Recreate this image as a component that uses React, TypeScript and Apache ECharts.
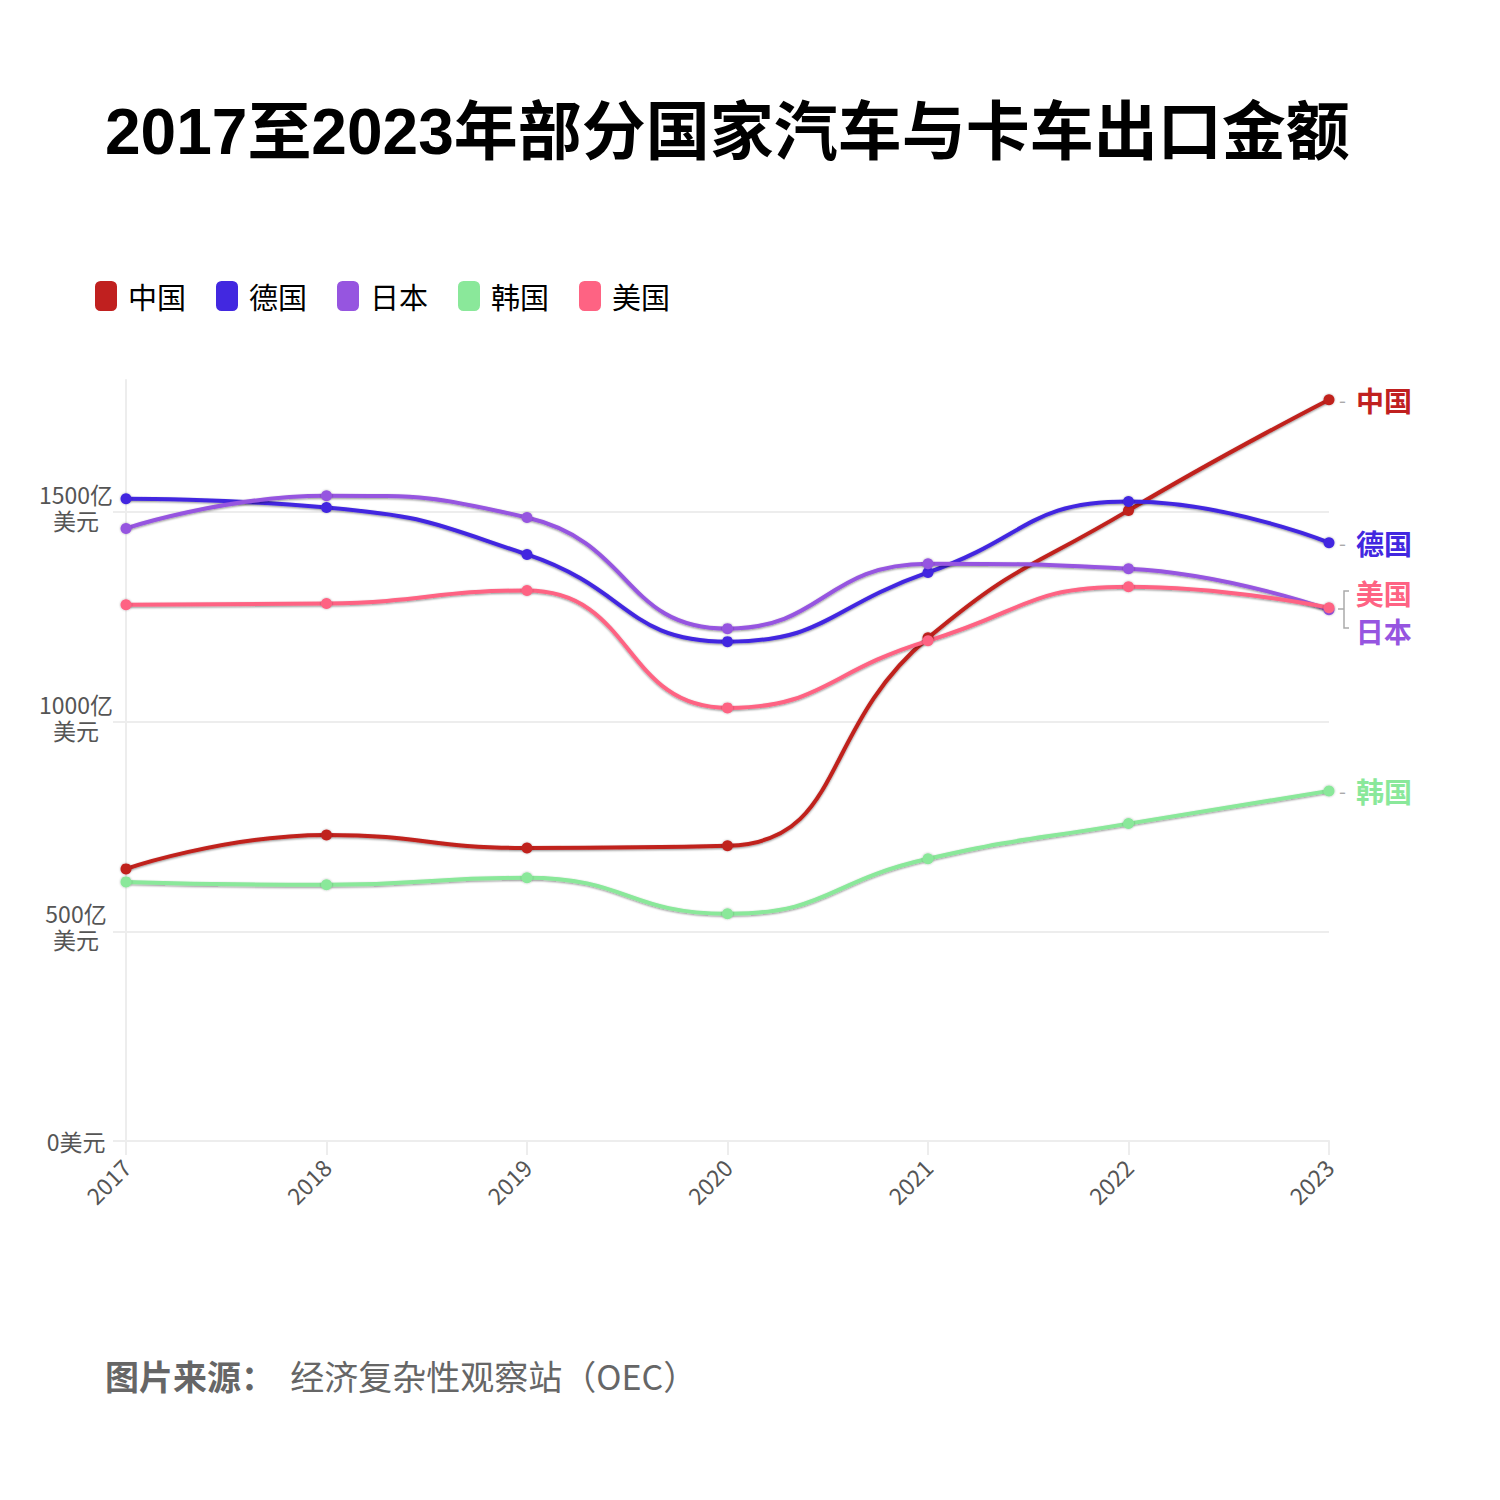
import React, { useEffect, useRef } from "react";
import * as echarts from "echarts";

const years = ["2017", "2018", "2019", "2020", "2021", "2022", "2023"];
const names = ["中国", "德国", "日本", "韩国", "美国"];
const colors = ["#c0201f", "#4228e0", "#9655e0", "#8ae89a", "#fe6383"];
const china = [649, 730, 699, 704, 1200, 1504, 1768];
const germany = [1532, 1511, 1399, 1191, 1356, 1525, 1427];
const japan = [1461, 1539, 1487, 1222, 1377, 1365, 1267];
const korea = [618, 611, 628, 542, 673, 757, 835];
const usa = [1279, 1282, 1313, 1033, 1193, 1322, 1272];
const seriesData = [china, germany, japan, korea, usa];
const endOffsets = [[0, 0], [0, 0], [0, 21], [0, 0], [0, -15]];
const dashed = [true, true, false, true, false];

const CJK = '"Noto Sans CJK SC", "Noto Sans", sans-serif';

export default function App() {
  const ref = useRef<HTMLDivElement>(null);
  useEffect(() => {
    document.body.style.margin = "0";
    const chart = echarts.init(ref.current!, null, { renderer: "svg" });
    const option: any = {
      animation: false,
      backgroundColor: "#ffffff",
      title: [
        {
          text: "2017至2023年部分国家汽车与卡车出口金额",
          left: 100,
          top: 95,
          textStyle: {
            fontSize: 64,
            fontWeight: "bold",
            color: "#000",
            fontFamily: '"Liberation Sans", "Noto Sans CJK SC", sans-serif',
          },
        },
        {
          text: "{b|图片来源：}{r|  经济复杂性观察站（OEC）}",
          left: 100,
          top: 1353,
          textStyle: {
            rich: {
              b: { fontSize: 34, fontWeight: "bold", color: "#666", fontFamily: CJK },
              r: { fontSize: 34, fontWeight: "normal", color: "#666", fontFamily: CJK },
            },
          },
        },
      ],
      legend: {
        left: 90,
        top: 276,
        icon: "roundRect",
        itemWidth: 22,
        itemHeight: 30,
        itemGap: 30,
        data: names,
        textStyle: { fontSize: 29, color: "#000", fontFamily: CJK, padding: [0, 0, 0, 6] },
      },
      grid: { left: 126, right: 171, top: 380, bottom: 359, containLabel: false },
      xAxis: {
        type: "category",
        data: years,
        boundaryGap: false,
        axisLine: { lineStyle: { color: "#ededed", width: 2 } },
        axisTick: { show: true, length: 14, lineStyle: { color: "#ededed", width: 2 } },
        axisLabel: { rotate: 45, color: "#555", fontSize: 23, margin: 22, fontFamily: CJK },
      },
      yAxis: {
        type: "value",
        min: 0,
        max: 1815,
        interval: 500,
        axisLine: { show: true, lineStyle: { color: "#ededed", width: 2 } },
        axisTick: { show: true, length: 13, lineStyle: { color: "#ededed", width: 2 } },
        splitLine: { show: true, showMaxLine: false, lineStyle: { color: "#ededed", width: 2 } },
        axisLabel: {
          showMaxLabel: false,
          align: "center",
          margin: 50,
          color: "#555",
          fontSize: 23,
          fontFamily: CJK,
          formatter: (v: number) =>
            v === 0 ? "{a|0美元}" : `{a|${v}亿}\n{a|美元}\n{s| }`,
          rich: {
            a: { fontSize: 23, lineHeight: 26, color: "#555", fontFamily: CJK, align: "center" },
            s: { fontSize: 4, lineHeight: 10 },
          },
        },
      },
      series: names.map((n, i) => ({
        name: n,
        type: "line",
        data: seriesData[i],
        smooth: 0.5,
        symbol: "circle",
        symbolSize: 11,
        color: colors[i],
        lineStyle: {
          width: 4,
          color: colors[i],
          shadowColor: "rgba(0,0,0,0.45)",
          shadowBlur: 2,
          shadowOffsetY: 1,
        },
        itemStyle: { color: colors[i], shadowColor: "rgba(0,0,0,0.3)", shadowBlur: 2 },
        endLabel: {
          show: true,
          distance: 10,
          offset: endOffsets[i],
          formatter: dashed[i] ? `{d|-}   {n|${n}}` : `     {n|${n}}`,
          rich: {
            d: { color: "#aaa", fontSize: 20, fontFamily: CJK },
            n: { color: colors[i], fontSize: 28, fontWeight: "bold", fontFamily: CJK },
          },
        },
      })),
      graphic: [
        {
          type: "polyline",
          shape: { points: [[1349, 591], [1344, 591], [1344, 628], [1349, 628]] },
          style: { stroke: "#aaa", lineWidth: 1.5, fill: "none" },
        },
        {
          type: "line",
          shape: { x1: 1338, y1: 609, x2: 1344, y2: 609 },
          style: { stroke: "#aaa", lineWidth: 1.5 },
        },
      ],
    };
    chart.setOption(option);
    return () => chart.dispose();
  }, []);
  return <div ref={ref} style={{ width: 1500, height: 1500 }} />;
}
